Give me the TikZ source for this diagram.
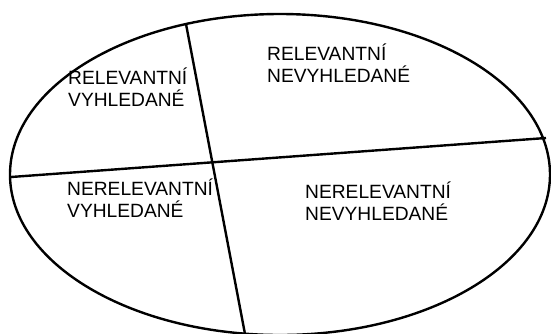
\documentclass[tikz,border=0pt]{standalone}
\usepackage{fontspec}
\setmainfont{Liberation Sans}
\begin{document}
\begin{tikzpicture}[x=1pt,y=-1pt,
  outline/.style={line width=2.4pt,black},
  lbl/.style={anchor=base west,inner sep=0pt,align=left,
    font=\fontsize{19.2}{21.5}\selectfont}]
\useasboundingbox (0,0) rectangle (551,333);
\draw[outline] (280,174.5) ellipse [x radius=270, y radius=160.5];
\coordinate (vt) at (186,24);
\coordinate (vb) at (245,334);
\coordinate (hl) at (11,177);
\coordinate (hr) at (546,138);
\draw[outline] (vt) -- (vb);
\draw[outline] (hl) -- (hr);
\node[lbl] (rv) at (68,106) {RELEVANTNÍ\\VYHLEDANÉ};
\node[lbl] (rn) at (267,82) {RELEVANTNÍ\\NEVYHLEDANÉ};
\node[lbl] (nv) at (67,217) {NERELEVANTNÍ\\VYHLEDANÉ};
\node[lbl] (nn) at (305,220) {NERELEVANTNÍ\\NEVYHLEDANÉ};
\end{tikzpicture}
\end{document}
